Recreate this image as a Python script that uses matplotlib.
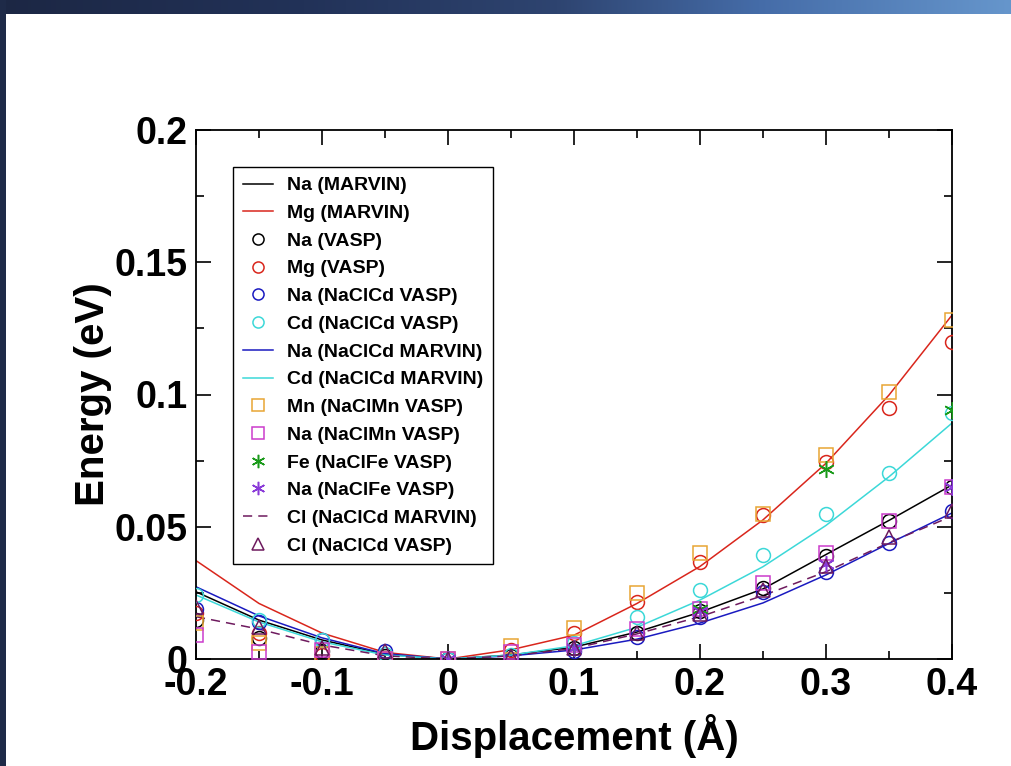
import numpy as np
import matplotlib
matplotlib.use("Agg")
import matplotlib.pyplot as plt
from matplotlib.patches import Rectangle
from matplotlib.ticker import MultipleLocator, FuncFormatter

# ---------------- data ----------------
x_all = [-0.2, -0.15, -0.1, -0.05, 0.0, 0.05, 0.1, 0.15, 0.2, 0.25, 0.3, 0.35, 0.4]

na_marvin = [0.0254, 0.0147, 0.0072, 0.0018, 0.0, 0.0015, 0.0045, 0.0102, 0.0177, 0.0265, 0.0395, 0.0524, 0.0658]
mg_marvin = [0.0372, 0.0210, 0.0098, 0.0025, 0.0, 0.0035, 0.0090, 0.0210, 0.0350, 0.0526, 0.0740, 0.0998, 0.1300]
na_cd_marvin = [0.0273, 0.0163, 0.0080, 0.0020, 0.0, 0.0012, 0.0034, 0.0075, 0.0136, 0.0212, 0.0318, 0.0437, 0.0552]
cd_cd_marvin = [0.0242, 0.0140, 0.0065, 0.0015, 0.0, 0.0015, 0.0050, 0.0120, 0.0223, 0.0349, 0.0505, 0.0689, 0.0892]
cl_cd_marvin = [0.0160, 0.0113, 0.0053, 0.0012, 0.0, 0.0012, 0.0040, 0.0095, 0.0160, 0.0240, 0.0330, 0.0440, 0.0540]

na_vasp = [0.0147, 0.0080, 0.0030, 0.0010, 0.0, 0.0010, 0.0040, 0.0100, 0.0180, 0.0270, 0.0390, 0.0520, 0.0650]
mg_vasp = [0.0174, 0.0098, 0.0015, 0.0005, 0.0, 0.0035, 0.0098, 0.0217, 0.0368, 0.0545, 0.0745, 0.0950, 0.1200]
na_cd_vasp = [0.0190, 0.0140, 0.0072, 0.0030, 0.0, 0.0000, 0.0030, 0.0084, 0.0160, 0.0255, 0.0330, 0.0440, 0.0560]
cd_cd_vasp = [0.0242, 0.0147, 0.0072, 0.0020, 0.0, 0.0015, 0.0060, 0.0160, 0.0260, 0.0393, 0.0550, 0.0703, 0.0930]
mn_mn_vasp = [0.0136, 0.0060, 0.0020, 0.0000, 0.0, 0.0050, 0.0117, 0.0248, 0.0400, 0.0550, 0.0770, 0.1010, 0.1280]
na_mn_vasp = [0.0090, 0.0028, 0.0034, 0.0000, 0.0, 0.0028, 0.0053, 0.0115, 0.0190, 0.0287, 0.0400, 0.0520, 0.0650]

x_fe = [0.0, 0.1, 0.2, 0.3, 0.4]
fe_fe_vasp = [0.0, 0.0040, 0.0190, 0.0720, 0.0940]
na_fe_vasp = [0.0, 0.0040, 0.0180, 0.0360, 0.0650]

cl_cd_vasp = [0.0198, 0.0120, 0.0040, 0.0030, 0.0, 0.0010, 0.0040, 0.0100, 0.0170, 0.0260, 0.0350, 0.0460, 0.0560]

x_ticks = [-0.2, -0.1, 0.0, 0.1, 0.2, 0.3, 0.4]
y_ticks = [0.0, 0.05, 0.1, 0.15, 0.2]

# ---------------- figure ----------------
W, H = 1012, 766
fig = plt.figure(figsize=(W / 100, H / 100), dpi=100)
fig.patch.set_facecolor("white")

# top gradient strip and left dark strip
top_h = 14 / H
gax = fig.add_axes([0, 1 - top_h, 1, top_h])
gax.set_axis_off()
stops = np.array([[0.00, 0x1c, 0x27, 0x44],
                  [0.30, 0x22, 0x32, 0x58],
                  [0.55, 0x2e, 0x44, 0x70],
                  [0.75, 0x45, 0x6c, 0xa8],
                  [1.00, 0x66, 0x96, 0xcc]])
xs = np.linspace(0, 1, 512)
grad = np.stack([np.interp(xs, stops[:, 0], stops[:, i]) / 255 for i in (1, 2, 3)], axis=-1)
gax.imshow(grad[None, :, :], aspect="auto", extent=[0, 1, 0, 1])
fig.patches.append(Rectangle((0, 0), 6 / W, 1, transform=fig.transFigure,
                             facecolor="#1e2a48", edgecolor="none", zorder=0))

ax = fig.add_axes([196 / W, 107 / H, 756 / W, 529 / H])

c_black = "black"
c_red = "#d9261c"
c_blue = "#1a1ac0"
c_cyan = "#3cd8d8"
c_orange = "#e8a634"
c_mag = "#cc3ccc"
c_green = "#1a9a1a"
c_violet = "#8a3ad8"
c_maroon = "#6e1a5e"

ms = 10
mew = 1.1

ax.plot(x_all, na_marvin, color=c_black, lw=1.1, label="Na (MARVIN)", zorder=2)
ax.plot(x_all, mg_marvin, color=c_red, lw=1.1, label="Mg (MARVIN)", zorder=2)
ax.plot(x_all, na_vasp, ls="none", marker="o", ms=ms, mfc="none", mec=c_black, mew=mew, label="Na (VASP)", zorder=3)
ax.plot(x_all, mg_vasp, ls="none", marker="o", ms=ms, mfc="none", mec=c_red, mew=mew, label="Mg (VASP)", zorder=3)
ax.plot(x_all, na_cd_vasp, ls="none", marker="o", ms=ms, mfc="none", mec=c_blue, mew=mew, label="Na (NaClCd VASP)", zorder=3)
ax.plot(x_all, cd_cd_vasp, ls="none", marker="o", ms=ms, mfc="none", mec=c_cyan, mew=mew, label="Cd (NaClCd VASP)", zorder=3)
ax.plot(x_all, na_cd_marvin, color=c_blue, lw=1.1, label="Na (NaClCd MARVIN)", zorder=2)
ax.plot(x_all, cd_cd_marvin, color=c_cyan, lw=1.1, label="Cd (NaClCd MARVIN)", zorder=2)
ax.plot(x_all, mn_mn_vasp, ls="none", marker="s", ms=ms, mfc="none", mec=c_orange, mew=mew, label="Mn (NaClMn VASP)", zorder=3)
ax.plot(x_all, na_mn_vasp, ls="none", marker="s", ms=ms, mfc="none", mec=c_mag, mew=mew, label="Na (NaClMn VASP)", zorder=3)
ax.plot(x_fe, fe_fe_vasp, ls="none", marker=(6, 2, 0), ms=ms + 2, mec=c_green, mew=mew, label="Fe (NaClFe VASP)", zorder=3)
ax.plot(x_fe, na_fe_vasp, ls="none", marker=(6, 2, 0), ms=ms + 2, mec=c_violet, mew=mew, label="Na (NaClFe VASP)", zorder=3)
ax.plot(x_all, cl_cd_marvin, color=c_maroon, lw=1.1, ls=(0, (6, 4)), label="Cl (NaClCd MARVIN)", zorder=2)
ax.plot(x_all, cl_cd_vasp, ls="none", marker="^", ms=ms, mfc="none", mec=c_maroon, mew=mew, label="Cl (NaClCd VASP)", zorder=3)

ax.set_xlim(-0.2, 0.4)
ax.set_ylim(0, 0.2)
ax.set_xticks(x_ticks)
ax.set_yticks(y_ticks)
ax.xaxis.set_minor_locator(MultipleLocator(0.05))
ax.yaxis.set_minor_locator(MultipleLocator(0.025))


def fmt(v, pos):
    s = ("%.2f" % v).rstrip("0").rstrip(".")
    if s in ("-0", ""):
        s = "0"
    return s


ax.xaxis.set_major_formatter(FuncFormatter(fmt))
ax.yaxis.set_major_formatter(FuncFormatter(fmt))

ax.tick_params(which="both", direction="in", top=True, right=True, width=1.2, color="black")
ax.tick_params(which="major", length=10.5, labelsize=27, pad=6)
ax.tick_params(which="minor", length=5.5)
for lab in ax.get_xticklabels() + ax.get_yticklabels():
    lab.set_fontfamily(["Liberation Sans", "DejaVu Sans"])
    lab.set_fontweight("bold")
for sp in ax.spines.values():
    sp.set_linewidth(1.3)

ax.set_xlabel("Displacement (Å)", fontsize=29, fontweight="bold",
              family=["Liberation Sans", "DejaVu Sans"], labelpad=8)
ax.set_ylabel("Energy (eV)", fontsize=29, fontweight="bold",
              family=["Liberation Sans", "DejaVu Sans"], labelpad=2)

leg = ax.legend(loc="upper left", bbox_to_anchor=((233 - 196) / 756, 1 - (167 - 130) / 529),
                frameon=True, fancybox=False, edgecolor="black", framealpha=1,
                prop={"family": ["Liberation Sans", "DejaVu Sans"], "weight": "bold", "size": 14},
                handlelength=1.55, handletextpad=0.75, labelspacing=0.52, borderpad=0.5,
                borderaxespad=0, numpoints=1, markerscale=0.8)
leg.get_frame().set_linewidth(1.0)

fig.savefig("out.png", dpi=100)
